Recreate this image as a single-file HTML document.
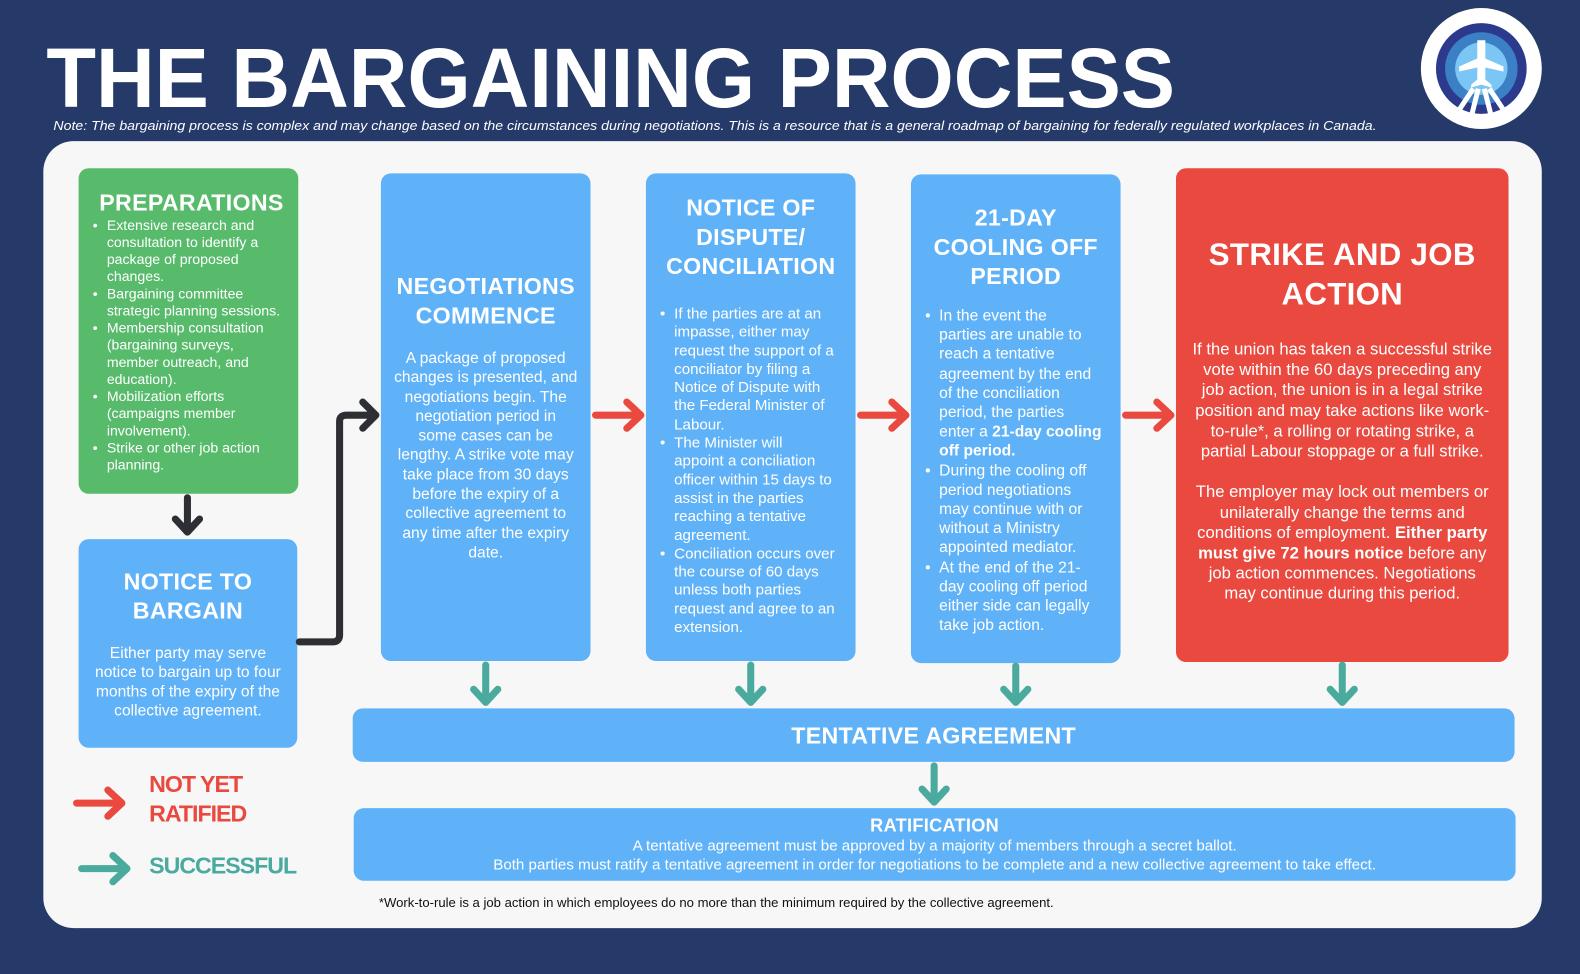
<!DOCTYPE html>
<html><head><meta charset="utf-8"><style>
*{margin:0;padding:0;box-sizing:border-box}
body{width:1580px;height:967px;background:#253a69;font-family:"Liberation Sans",sans-serif;position:relative;overflow:hidden;color:#fff}
#wrap{position:absolute;left:0;top:0;width:1568px;height:960px;transform:scale(1.0077);transform-origin:0 0}
.panel{position:absolute;left:43px;top:140px;width:1487px;height:781px;background:#f7f7f7;border-radius:30px}
.box{position:absolute;border-radius:10px;color:#fff;text-align:center}
.blue{background:#5fb2f8}
.h{font-weight:bold;font-size:23px;line-height:29px;letter-spacing:0.3px}
.t{font-size:15px;line-height:18.5px;white-space:nowrap}
.l{text-align:left}
ul{list-style:none}
li{position:relative;padding-left:14px}
li:before{content:"•";position:absolute;left:0}
</style></head><body><div id="wrap">
<svg style="position:absolute;left:0;top:0" width="1580" height="140">
<text x="46" y="106" font-family="Liberation Sans" font-weight="bold" font-size="84" fill="#fff" textLength="1120" lengthAdjust="spacingAndGlyphs">THE BARGAINING PROCESS</text>
<text x="53" y="129" font-family="Liberation Sans" font-style="italic" font-size="13" fill="#fff" textLength="1313" lengthAdjust="spacingAndGlyphs">Note: The bargaining process is complex and may change based on the circumstances during negotiations. This is a resource that is a general roadmap of bargaining for federally regulated workplaces in Canada.</text>
<circle cx="1470" cy="68" r="60" fill="#fff"/>
<circle cx="1470" cy="68" r="45" fill="#2b3a8c"/>
<circle cx="1470" cy="68" r="36" fill="#3b7fc4"/>
<circle cx="1470" cy="68" r="26" fill="#7cc6f5"/>
<path d="M1466 40 h8 v18 l18 8 v5 l-18 -4 v12 l6 5 v3 l-10 -3 l-10 3 v-3 l6 -5 v-12 l-18 4 v-5 l18 -8z" fill="#fff"/>
<path d="M1462 88 l-20 30 M1467 88 l-8 32 M1473 88 l8 32 M1478 88 l20 30" stroke="#fff" stroke-width="5"/>
</svg>
<div class="panel"></div>

<div class="box" style="left:78px;top:167px;width:218px;height:323px;background:#58bb6c;padding:20px 8px 0 14px">
<div class="h" style="font-size:23px;line-height:28px">PREPARATIONS</div>
<ul class="t l" style="font-size:14px;line-height:17px">
<li>Extensive research and<br>consultation to identify a<br>package of proposed<br>changes.</li>
<li>Bargaining committee<br>strategic planning sessions.</li>
<li>Membership consultation<br>(bargaining surveys,<br>member outreach, and<br>education).</li>
<li>Mobilization efforts<br>(campaigns member<br>involvement).</li>
<li>Strike or other job action<br>planning.</li>
</ul></div>

<div class="box blue" style="left:78px;top:535px;width:217px;height:207px;padding-top:28px">
<div class="h">NOTICE TO<br>BARGAIN</div>
<div class="t" style="margin-top:18px;font-size:15.5px;line-height:19px">Either party may serve<br>notice to bargain up to four<br>months of the expiry of the<br>collective agreement.</div></div>

<div class="box blue" style="left:378px;top:172px;width:208px;height:484px;padding-top:98px">
<div class="h">NEGOTIATIONS<br>COMMENCE</div>
<div class="t" style="margin-top:18px;font-size:15.5px;line-height:19.3px">A package of proposed<br>changes is presented, and<br>negotiations begin. The<br>negotiation period in<br>some cases can be<br>lengthy. A strike vote may<br>take place from 30 days<br>before the expiry of a<br>collective agreement to<br>any time after the expiry<br>date.</div></div>

<div class="box blue" style="left:641px;top:172px;width:208px;height:484px;padding-top:20px">
<div class="h">NOTICE OF<br>DISPUTE/<br>CONCILIATION</div>
<ul class="t l" style="margin:24px 0 0 14px;font-size:15px;line-height:18.3px">
<li>If the parties are at an<br>impasse, either may<br>request the support of a<br>conciliator by filing a<br>Notice of Dispute with<br>the Federal Minister of<br>Labour.</li>
<li>The Minister will<br>appoint a conciliation<br>officer within 15 days to<br>assist in the parties<br>reaching a tentative<br>agreement.</li>
<li>Conciliation occurs over<br>the course of 60 days<br>unless both parties<br>request and agree to an<br>extension.</li>
</ul></div>

<div class="box blue" style="left:904px;top:173px;width:208px;height:485px;padding-top:29px">
<div class="h">21-DAY<br>COOLING OFF<br>PERIOD</div>
<ul class="t l" style="margin:15px 0 0 14px;font-size:15.5px;line-height:19.2px">
<li>In the event the<br>parties are unable to<br>reach a tentative<br>agreement by the end<br>of the conciliation<br>period, the parties<br>enter a <b>21-day cooling<br>off period.</b></li>
<li>During the cooling off<br>period negotiations<br>may continue with or<br>without a Ministry<br>appointed mediator.</li>
<li>At the end of the 21-<br>day cooling off period<br>either side can legally<br>take job action.</li>
</ul></div>

<div class="box" style="left:1167px;top:167px;width:330px;height:490px;background:#e9493f;padding-top:66px">
<div class="h" style="font-size:31px;line-height:39px">STRIKE AND JOB<br>ACTION</div>
<div class="t" style="margin-top:26px;font-size:16.5px;line-height:20.2px">If the union has taken a successful strike<br>vote within the 60 days preceding any<br>job action, the union is in a legal strike<br>position and may take actions like work-<br>to-rule*, a rolling or rotating strike, a<br>partial Labour stoppage or a full strike.<br><br>The employer may lock out members or<br>unilaterally change the terms and<br>conditions of employment. <b>Either party<br>must give 72 hours notice</b> before any<br>job action commences. Negotiations<br>may continue during this period.</div></div>

<div class="box blue" style="left:350px;top:703px;width:1153px;height:53px;padding-top:13px">
<div class="h" style="font-size:23px;line-height:28px">TENTATIVE AGREEMENT</div></div>

<div class="box blue" style="left:351px;top:802px;width:1153px;height:72px;padding-top:7px">
<div class="h" style="font-size:18px;line-height:21px">RATIFICATION</div>
<div class="t" style="font-size:15px;line-height:19px">A tentative agreement must be approved by a majority of members through a secret ballot.<br>Both parties must ratify a tentative agreement in order for negotiations to be complete and a new collective agreement to take effect.</div></div>

<div style="position:absolute;left:376px;top:888px;font-size:13px;color:#111">*Work-to-rule is a job action in which employees do no more than the minimum required by the collective agreement.</div>

<div style="position:absolute;left:148px;top:764px;color:#e9493f;font-weight:bold;font-size:23px;line-height:29px;letter-spacing:-1px">NOT YET<br>RATIFIED</div>
<div style="position:absolute;left:148px;top:846px;color:#4aaa9e;font-weight:bold;font-size:23px;letter-spacing:-1px">SUCCESSFUL</div>

<svg style="position:absolute;left:0;top:0" width="1580" height="967" fill="none" stroke-linecap="round" stroke-linejoin="round">
<g stroke="#2d2f35" stroke-width="7">
<path d="M186 494 V528 M174 515 L186 528 L198 515"/>
<path d="M297 637 H330 Q337 637 337 630 V418 Q337 412 344 412 H372 M360 399 L373 412 L360 425"/>
</g>
<g stroke="#e9493f" stroke-width="7">
<path d="M591 412 H634 M622 399 L636 412 L622 425"/>
<path d="M854 412 H897 M885 399 L899 412 L885 425"/>
<path d="M1117 412 H1160 M1148 399 L1162 412 L1148 425"/>
<path d="M76 797 H119 M107 784 L121 797 L107 810"/>
</g>
<g stroke="#4aaa9e" stroke-width="7">
<path d="M482 660 V697 M470 684 L482 697 L494 684"/>
<path d="M745 660 V697 M733 684 L745 697 L757 684"/>
<path d="M1008 661 V697 M996 684 L1008 697 L1020 684"/>
<path d="M1332 660 V697 M1320 684 L1332 697 L1344 684"/>
<path d="M927 760 V796 M915 783 L927 796 L939 783"/>
<path d="M81 862 H124 M112 849 L126 862 L112 875"/>
</g>
</svg>
</div></body></html>
